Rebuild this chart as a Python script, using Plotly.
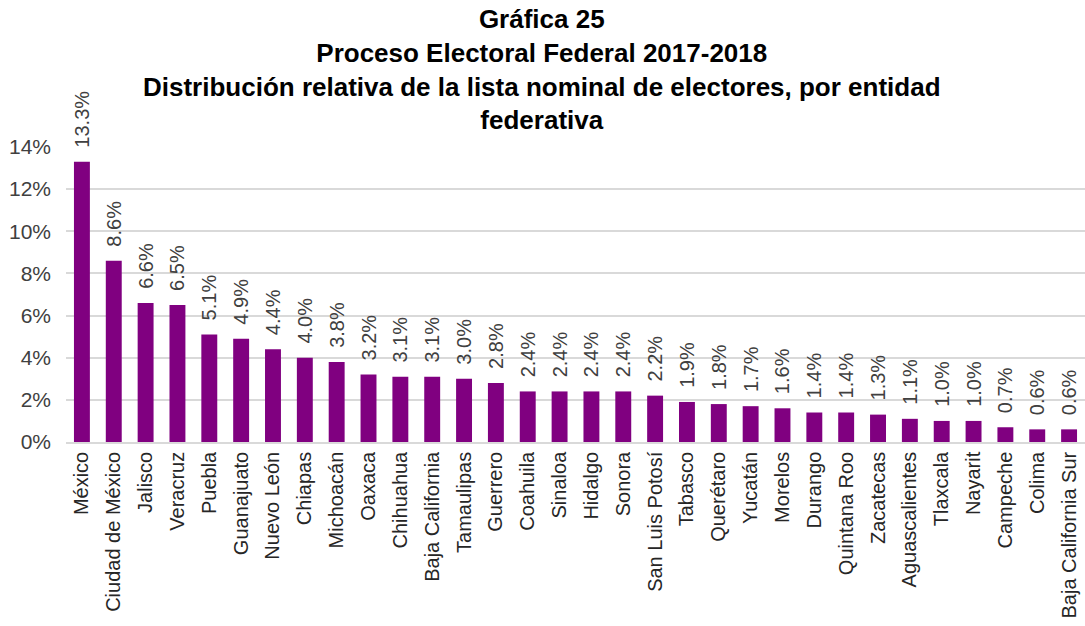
import plotly.graph_objects as go

estados = ["México", "Ciudad de México", "Jalisco", "Veracruz", "Puebla", "Guanajuato",
           "Nuevo León", "Chiapas", "Michoacán", "Oaxaca", "Chihuahua", "Baja California",
           "Tamaulipas", "Guerrero", "Coahuila", "Sinaloa", "Hidalgo", "Sonora",
           "San Luis Potosí", "Tabasco", "Querétaro", "Yucatán", "Morelos", "Durango",
           "Quintana Roo", "Zacatecas", "Aguascalientes", "Tlaxcala", "Nayarit",
           "Campeche", "Colima", "Baja California Sur"]
porcentaje = [13.3, 8.6, 6.6, 6.5, 5.1, 4.9, 4.4, 4.0, 3.8, 3.2, 3.1, 3.1, 3.0, 2.8,
              2.4, 2.4, 2.4, 2.4, 2.2, 1.9, 1.8, 1.7, 1.6, 1.4, 1.4, 1.3, 1.1, 1.0,
              1.0, 0.7, 0.6, 0.6]
ytick_vals = [0, 2, 4, 6, 8, 10, 12, 14]
ytick_text = [f"{v}%" for v in ytick_vals]

titulo = ("<b>Gráfica 25<br>Proceso Electoral Federal 2017-2018<br>"
          "Distribución relativa de la lista nominal de electores, por entidad<br>federativa</b>")

fig = go.Figure(go.Bar(
    x=estados, y=porcentaje,
    marker=dict(color="#800080", line=dict(width=0)),
    text=["\u00a0\u00a0" + f"{v:.1f}%" for v in porcentaje],
    textposition="outside", textangle=-90, constraintext="none",
    textfont=dict(family="Liberation Sans, Arial", size=20, color="#404040"),
    cliponaxis=False,
    width=0.5,
    hoverinfo="skip",
))

fig.update_layout(
    width=1085, height=626,
    paper_bgcolor="white", plot_bgcolor="white",
    margin=dict(l=66, r=0, t=147, b=184),
    showlegend=False,
    font=dict(family="Liberation Sans, Arial", color="#404040"),
    xaxis=dict(tickangle=-90, tickfont=dict(size=20, color="#262626"),
               showgrid=False, showline=True, linecolor="#d9d9d9", linewidth=1.5,
               ticks="", automargin=False),
    yaxis=dict(range=[0, 14], tickvals=ytick_vals, ticktext=ytick_text,
               tickfont=dict(size=21, color="#404040"), ticklabelstandoff=14,
               showgrid=True, gridcolor="#d9d9d9", gridwidth=1.5,
               zeroline=False, showline=False, ticks="", automargin=False),
    annotations=[dict(
        text=titulo, xref="paper", yref="paper", x=0.4676, y=1.4915,
        xanchor="center", yanchor="top", showarrow=False, align="center",
        font=dict(family="Liberation Sans, Arial", size=26, color="#000000"),
    )],
)

fig.write_html("out.html", config={"displayModeBar": False},
               post_script="document.body.style.margin='0';document.body.style.overflow='hidden';")
